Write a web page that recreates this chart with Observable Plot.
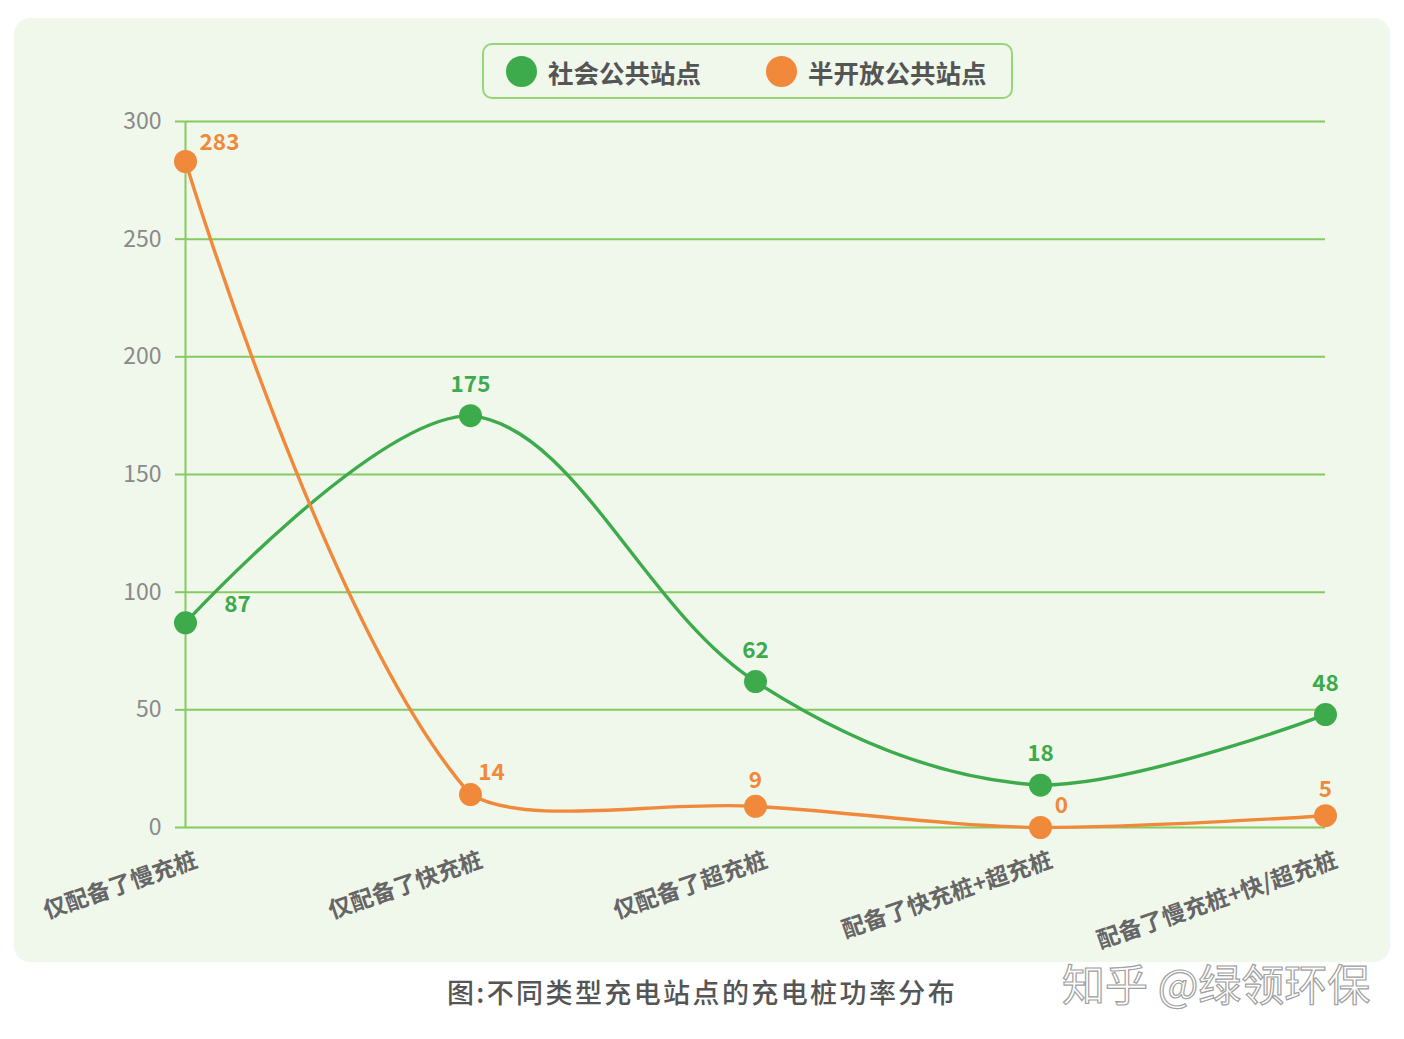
<!DOCTYPE html>
<html>
<head>
<meta charset="utf-8">
<script src="https://cdn.jsdelivr.net/npm/d3@7"></script>
<script src="https://cdn.jsdelivr.net/npm/@observablehq/plot@0.6"></script>
<style>
  html, body { margin: 0; padding: 0; background: #ffffff; }
  body { width: 1404px; height: 1039px; position: relative; overflow: hidden;
         font-family: "Noto Sans CJK SC", "Noto Sans", sans-serif; }
  #panel { position: absolute; left: 14px; top: 18px; width: 1376px; height: 944px;
           background: #f0f7eb; border-radius: 16px; }
  #chart { position: absolute; left: 0; top: 0; }
  #legend { position: absolute; left: 482px; top: 43px; width: 527px; height: 52px;
            border: 2px solid #98d47a; border-radius: 10px; }
  .lg-item { position: absolute; top: 0; height: 52px; display: flex; align-items: center;
             font-size: 25.5px; font-weight: bold; color: #555; white-space: nowrap; }
  .lg-dot { width: 31px; height: 31px; border-radius: 50%; margin-right: 11px; }
  #caption { position: absolute; left: 0; width: 1404px; top: 972px; text-align: center;
             font-size: 27px; font-weight: 500; color: #555; letter-spacing: 2.4px; }
  #watermark { position: absolute; left: 1062px; top: 951px; font-size: 43px; color: #ffffff;
               -webkit-text-stroke: 1.2px #a0a0a0; font-family: "Noto Sans CJK SC", sans-serif; }
</style>
</head>
<body>
<div id="panel"></div>
<div id="chart"></div>
<div id="legend"></div>
<div id="caption">图:不同类型充电站点的充电桩功率分布</div>
<div id="watermark">知乎 @绿领环保</div>
<script>
const categories = ["仅配备了慢充桩", "仅配备了快充桩", "仅配备了超充桩", "配备了快充桩+超充桩", "配备了慢充桩+快/超充桩"];
const seriesNames = ["社会公共站点", "半开放公共站点"];
const publicValues = [87, 175, 62, 18, 48];
const semiOpenValues = [283, 14, 9, 0, 5];
const yTicks = [0, 50, 100, 150, 200, 250, 300];

const colors = ["#3dab4b", "#f0893a"];
const gridColor = "#86ca62";

const rows = [];
categories.forEach((c, i) => {
  rows.push({cat: c, idx: i, series: seriesNames[0], s: 0, value: publicValues[i]});
  rows.push({cat: c, idx: i, series: seriesNames[1], s: 1, value: semiOpenValues[i]});
});

// Smooth bezier curve (distance-weighted tangents, constrained to the line's bounding box)
function smoothCurve(context) {
  let pts = [];
  const smooth = 0.35;
  return {
    areaStart() {}, areaEnd() {},
    lineStart() { pts = []; },
    point(x, y) { pts.push([+x, +y]); },
    lineEnd() {
      const n = pts.length;
      if (!n) return;
      if (n < 3) {
        context.moveTo(pts[0][0], pts[0][1]);
        for (let i = 1; i < n; i++) context.lineTo(pts[i][0], pts[i][1]);
        return;
      }
      let minX = Infinity, minY = Infinity, maxX = -Infinity, maxY = -Infinity;
      for (const [x, y] of pts) { minX = Math.min(minX, x); maxX = Math.max(maxX, x); minY = Math.min(minY, y); maxY = Math.max(maxY, y); }
      const clamp = (p) => [Math.min(maxX, Math.max(minX, p[0])), Math.min(maxY, Math.max(minY, p[1]))];
      const cps = [];
      for (let i = 0; i < n; i++) {
        const p = pts[i];
        if (i === 0 || i === n - 1) { cps.push(p.slice(), p.slice()); continue; }
        const prev = pts[i - 1], next = pts[i + 1];
        const vx = (next[0] - prev[0]) * smooth, vy = (next[1] - prev[1]) * smooth;
        let d0 = Math.hypot(p[0] - prev[0], p[1] - prev[1]);
        let d1 = Math.hypot(next[0] - p[0], next[1] - p[1]);
        const sum = d0 + d1;
        if (sum) { d0 /= sum; d1 /= sum; }
        cps.push(clamp([p[0] - vx * d0, p[1] - vy * d0]), clamp([p[0] + vx * d1, p[1] + vy * d1]));
      }
      context.moveTo(pts[0][0], pts[0][1]);
      for (let i = 1; i < n; i++) {
        const c1 = cps[2 * (i - 1) + 1], c2 = cps[2 * i];
        context.bezierCurveTo(c1[0], c1[1], c2[0], c2[1], pts[i][0], pts[i][1]);
      }
    }
  };
}

// label placement rule per series/point
function labelDx(d) {
  if (d.idx === 0) return d.s === 0 ? 52 : 34;
  if (d.s === 1 && (d.idx === 1 || d.idx === 3)) return 21;
  return 0;
}
function labelDy(d) {
  if (d.idx === 0) return d.s === 0 ? -18 : -19;
  if (d.s === 1) return (d.idx === 1 || d.idx === 3) ? -22 : -26;
  return -31;
}

const chart = Plot.plot({
  width: 1404,
  height: 962,
  marginLeft: 185,
  marginRight: 79,
  marginTop: 121,
  marginBottom: 135,
  style: {background: "transparent", fontFamily: "'Noto Sans CJK SC', 'Noto Sans', sans-serif", overflow: "visible"},
  x: {type: "point", domain: categories, padding: 0},
  y: {domain: [0, 300], ticks: yTicks},
  marks: [
    Plot.ruleY(yTicks, {stroke: gridColor, strokeWidth: 2}),
    Plot.ruleX([categories[0]], {y1: 0, y2: 300, stroke: gridColor, strokeWidth: 2}),
    Plot.axisY({ticks: yTicks, tickSize: 10, tickPadding: 14, stroke: gridColor, strokeWidth: 2, strokeOpacity: 1,
                fill: "#8a8a8a", fontSize: 23, label: null}),
    Plot.axisX({ticks: [], label: null}),
    Plot.text(categories, {x: d => d, frameAnchor: "bottom", rotate: -19, textAnchor: "end", lineAnchor: "middle",
                           dx: 11, dy: 32, fill: "#666", fontSize: 23, fontWeight: "bold"}),
    Plot.line(rows, {x: "cat", y: "value", z: "series", stroke: d => colors[d.s], strokeWidth: 3.4,
                     curve: smoothCurve}),
    Plot.dot(rows, {x: "cat", y: "value", r: 11.5, fill: d => colors[d.s], stroke: "none"}),
    Plot.text(rows, {x: "cat", y: "value", text: d => String(d.value), fill: d => colors[d.s],
                     fontSize: 22.5, fontWeight: 600})
  ]
});
document.getElementById("chart").appendChild(chart);

// per-datum label offsets (Plot's dx/dy are constants)
const textGroups = chart.querySelectorAll("g[aria-label='text']");
const valueLabels = textGroups[textGroups.length - 1];
if (valueLabels) {
  valueLabels.querySelectorAll("text").forEach((t, i) => {
    const d = rows[i];
    const tr = t.getAttribute("transform") || "";
    t.setAttribute("transform", tr + ` translate(${labelDx(d)},${labelDy(d)})`);
  });
}

// Legend
const legend = document.getElementById("legend");
const legendLefts = [22, 282];
seriesNames.forEach((name, i) => {
  const item = document.createElement("div");
  item.className = "lg-item";
  item.style.left = legendLefts[i] + "px";
  const dot = document.createElement("div");
  dot.className = "lg-dot";
  dot.style.background = colors[i];
  const txt = document.createElement("span");
  txt.textContent = name;
  item.appendChild(dot);
  item.appendChild(txt);
  legend.appendChild(item);
});
</script>
</body>
</html>
